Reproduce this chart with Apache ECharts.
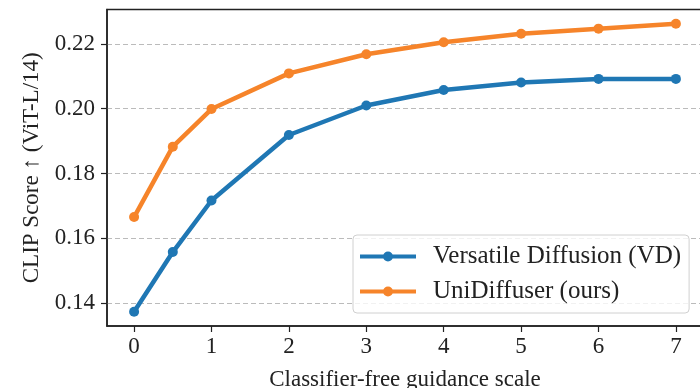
<!DOCTYPE html>
<html>
<head>
<meta charset="utf-8">
<script src="https://cdn.jsdelivr.net/npm/echarts@6/dist/echarts.min.js"></script>
<style>
html,body{margin:0;padding:0;background:#fff;}
#c{width:700px;height:388px;}
</style>
</head>
<body>
<div id="c"></div>
<script>
const guidanceScales = [0, 0.5, 1, 2, 3, 4, 5, 6, 7];
const vdScores = [0.1374, 0.1558, 0.1717, 0.1919, 0.2010, 0.2058, 0.2081, 0.2092, 0.2092];
const uniScores = [0.1666, 0.1883, 0.1999, 0.2109, 0.2168, 0.2205, 0.2231, 0.2247, 0.2262];
const xTicks = [0, 1, 2, 3, 4, 5, 6, 7];
const yTicks = [0.14, 0.16, 0.18, 0.20, 0.22];
const seriesNames = ['Versatile Diffusion (VD)', 'UniDiffuser (ours)'];

const FONT = '"Liberation Serif", "DejaVu Serif", serif';
const chart = echarts.init(document.getElementById('c'), null, {renderer: 'canvas'});

function pairs(xs, ys){ return xs.map((x,i)=>[x, ys[i]]); }

chart.setOption({
  animation: false,
  backgroundColor: '#fff',
  textStyle: {fontFamily: FONT},
  grid: {left: 107, top: 9.5, right: -3, bottom: 62, show: true, borderColor: '#222', borderWidth: 1.5,
    backgroundColor: 'transparent', containLabel: false, outerBoundsMode: 'none'},
  legend: {
    data: seriesNames,
    orient: 'vertical',
    left: 353, top: 235,
    padding: [9, 8, 9, 7],
    itemGap: 10,
    itemWidth: 56, itemHeight: 14,
    backgroundColor: 'rgba(255,255,255,0.8)',
    borderColor: '#d0d0d0', borderWidth: 1, borderRadius: 4,
    textStyle: {fontFamily: FONT, fontSize: 25, color: '#222', padding: [0,0,0,12]},
    icon: 'path://M0,6 L56,6 L56,10 L0,10 Z M28,3 A5,5 0 1 1 27.99,3 Z'
  },
  xAxis: {
    type: 'value', min: -0.35, max: 7.35,
    name: 'Classifier-free guidance scale', nameLocation: 'middle', nameGap: 42,
    nameTextStyle: {fontFamily: FONT, fontSize: 23, color: '#222'},
    axisLine: {show: true, onZero: false, lineStyle: {color: '#222', width: 1.5}},
    axisTick: {show: true, length: 6, lineStyle: {color: '#222', width: 1.2}, customValues: xTicks},
    axisLabel: {fontFamily: FONT, fontSize: 23, color: '#222', margin: 9, customValues: xTicks},
    splitLine: {show: false}
  },
  yAxis: {
    type: 'value', min: 0.133, max: 0.2306,
    name: 'CLIP Score ↑ (ViT-L/14)', nameLocation: 'middle', nameGap: 57, nameRotate: 90,
    nameTextStyle: {fontFamily: FONT, fontSize: 23, color: '#222'},
    axisLine: {show: true, onZero: false, lineStyle: {color: '#222', width: 1.5}},
    axisTick: {show: true, length: 6, lineStyle: {color: '#222', width: 1.2}, customValues: yTicks},
    axisLabel: {fontFamily: FONT, fontSize: 23, color: '#222', margin: 12, customValues: yTicks,
      formatter: v => v.toFixed(2)},
    splitLine: {show: true, lineStyle: {color: '#bbb', type: [5, 3], width: 1}}
  },
  series: [
    {
      name: seriesNames[0], type: 'line', data: pairs(guidanceScales, vdScores),
      symbol: 'circle', symbolSize: 10,
      lineStyle: {color: '#1f77b4', width: 4.5},
      itemStyle: {color: '#1f77b4'}, z: 3
    },
    {
      name: seriesNames[1], type: 'line', data: pairs(guidanceScales, uniScores),
      symbol: 'circle', symbolSize: 10,
      lineStyle: {color: '#f6842a', width: 4.5},
      itemStyle: {color: '#f6842a'}, z: 3
    }
  ]
});
</script>
</body>
</html>
